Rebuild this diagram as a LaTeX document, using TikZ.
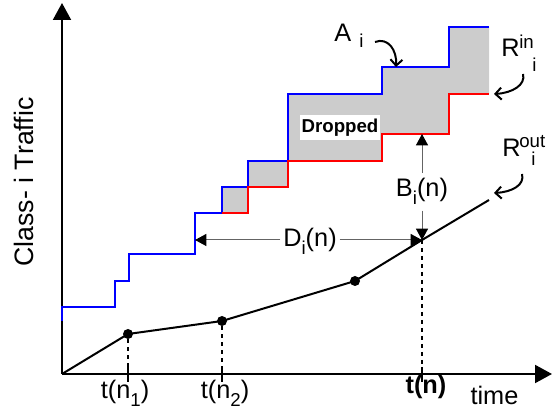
\documentclass[tikz,border=0pt]{standalone}
\usepackage{fontspec}
\setmainfont{Liberation Sans}
\usetikzlibrary{arrows.meta, positioning, calc}
\definecolor{dropgray}{RGB}{204, 204, 204}
\definecolor{arrivblue}{RGB}{0, 0, 255}
\definecolor{admitred}{RGB}{255, 0, 0}
\definecolor{guidegray}{RGB}{100, 100, 100}
\newcommand{\subtxt}[1]{\raisebox{-6pt}{\fontsize{14}{15}\selectfont #1}}

\begin{document}
\begin{tikzpicture}[x=0.75pt, y=-0.75pt,
  axisline/.style={line width=1.5pt, -{Triangle[length=12.75pt, width=13.5pt]}},
  stair/.style={line width=1.5pt},
  guide/.style={guidegray, line width=0.75pt, -{Triangle[length=8.5pt, width=9pt, color=black]}},
  pointer/.style={line width=1.5pt, -{Straight Barb[length=4.5pt, width=9pt]}},
  dropline/.style={line width=1.5pt, dash pattern=on 3pt off 3pt},
  bullet/.style={circle, fill=black, inner sep=0pt, minimum size=7.5pt},
  txt/.style={font=\fontsize{19}{21}\selectfont, inner sep=0pt},
  subtext/.style={font=\fontsize{14}{15}\selectfont, inner sep=0pt}
]
  \useasboundingbox (0,0) rectangle (554,413);

  \coordinate (O) at (62,374);
  \coordinate (ytop) at (62,3);
  \coordinate (xend) at (552,374);
  \draw[axisline] (O) -- (ytop);
  \draw[axisline] (O) -- (xend);

  \fill[dropgray] (222,213) -- (222,187) -- (248,187) -- (248,161) -- (288,161) -- (288,94) -- (382,94) -- (382,67)
    -- (449,67) -- (449,27) -- (489,27) -- (489,94) -- (449,94) -- (449,134) -- (382,134) -- (382,161)
    -- (288,161) -- (288,187) -- (248,187) -- (248,213) -- cycle;
  \draw[stair, arrivblue] (62,321) -- (62,307) -- (115,307) -- (115,281) -- (129,281) -- (129,254) -- (195,254)
    -- (195,213) -- (222,213) -- (222,187) -- (248,187) -- (248,161) -- (288,161) -- (288,94) -- (382,94)
    -- (382,67) -- (449,67) -- (449,27) -- (489,27);
  \draw[stair, admitred] (222,213) -- (248,213) -- (248,187) -- (288,187) -- (288,161) -- (382,161) -- (382,134)
    -- (449,134) -- (449,94) -- (489,94);

  \node[fill=white, font=\fontsize{14}{16}\selectfont\bfseries, inner xsep=1pt, inner ysep=0pt, minimum height=18.75pt] (drop) at (340,127.5) {Dropped};

  \node[bullet] (n1) at (128,334) {};
  \node[bullet] (n2) at (222,321) {};
  \node[bullet] (n3) at (355,281) {};
  \coordinate (tn) at (422,240);
  \coordinate (rend) at (489,200);
  \draw[line width=1.5pt] (O) -- (n1.center) -- (n2.center) -- (n3.center) -- (tn) -- (rend);

  \draw[dropline] (n1) -- (128,374);
  \draw[dropline] (n2) -- (222,374);
  \draw[dropline] (tn) -- (422,374);
  \draw[line width=1.5pt] (128,367) -- (128,382);
  \draw[line width=1.5pt] (222,367) -- (222,382);
  \draw[line width=1.5pt] (422,367) -- (422,382);

  \node[txt, anchor=base] (t1) at (125,399) {t(n\subtxt{1})};
  \node[txt, anchor=base] (t2) at (225,399) {t(n\subtxt{2})};
  \node[txt, anchor=base, font=\fontsize{19}{21}\selectfont\bfseries] (tnlab) at (426,394) {t(n)};
  \node[txt, anchor=base] (timelab) at (494.5,405) {time};
  \node[txt, rotate=90, font=\fontsize{20}{22}\selectfont] (ylab) at (24,182) {Class- i Traffic};

  \coordinate (rtop) at (422,134);
  \coordinate (dleft) at (195,240);
  \node[txt, anchor=base, inner sep=4pt] (Blab) at (422,197) {B\subtxt{i}(n)};
  \draw[guide] (Blab.north) -- (rtop);
  \draw[guide] (Blab.south) -- (tn);
  \node[txt, anchor=base, inner sep=2pt] (Dlab) at (310,247) {D\subtxt{i}(n)};
  \draw[guide] (Dlab.west |- tn) -- (dleft);
  \draw[guide] (Dlab.east |- tn) -- (tn);

  \node[txt, anchor=base west] (Alab) at (334,42) {A};
  \node[subtext, anchor=base west] (Asub) at (359,48) {i};
  \coordinate (astart) at (375,42);
  \coordinate (atip) at (396,67);
  \draw[pointer] (astart) .. controls (388,37) and (397,50) .. (atip);

  \node[txt, anchor=base west] (Rin) at (501,57) {R};
  \node[subtext, anchor=base west] (Rinsup) at (519,49) {in};
  \node[subtext, anchor=base west] (Rinsub) at (532,72) {i};
  \coordinate (rinstart) at (523,74);
  \coordinate (rintip) at (494,94);
  \draw[pointer] (rinstart) .. controls (526,85) and (512,93) .. (rintip);

  \node[txt, anchor=base west] (Rout) at (502,157) {R};
  \node[subtext, anchor=base west] (Routsup) at (519,148) {out};
  \node[subtext, anchor=base west] (Routsub) at (531,166) {i};
  \coordinate (routstart) at (522,174);
  \coordinate (routtip) at (494,193);
  \draw[pointer] (routstart) .. controls (525,185) and (512,192) .. (routtip);
\end{tikzpicture}
\end{document}
